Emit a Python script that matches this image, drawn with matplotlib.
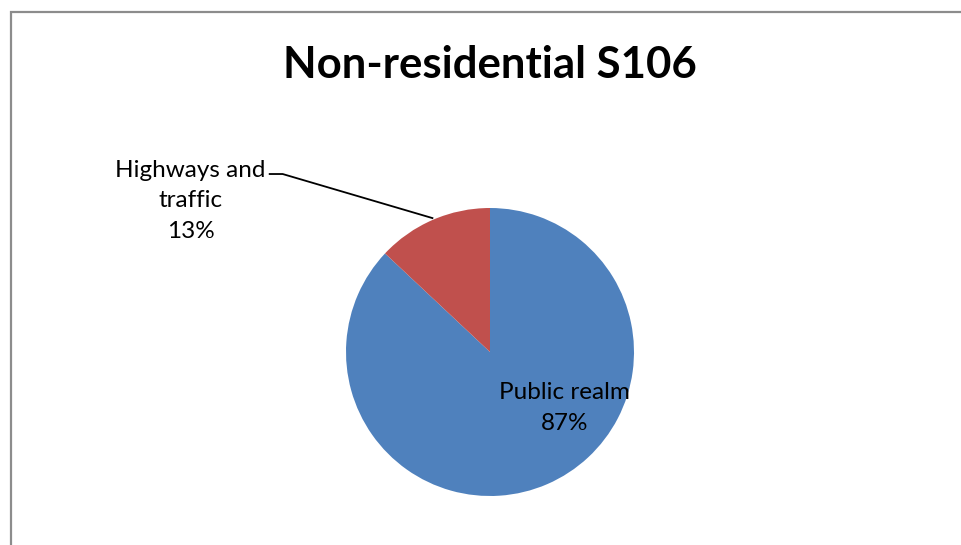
import matplotlib.pyplot as plt
from matplotlib.patches import Rectangle

# Non-residential S106 split
labels = ["Public realm", "Highways and\ntraffic"]
shares = [87, 13]
colors = ["#4F81BD", "#C0504D"]

plt.rcParams['font.family'] = ['Lato', 'DejaVu Sans']

W, H = 961, 545
fig = plt.figure(figsize=(W / 100, H / 100), dpi=100)

# chart area border (runs off the right and bottom edge)
fig.patches.append(Rectangle((10.5 / W, -0.1), 1.2, (H - 12) / H + 0.1,
                             transform=fig.transFigure, fill=False,
                             edgecolor="#8c8c8c", linewidth=1.6))

fig.text(490 / W, 1 - 65 / H, "Non-residential S106", ha="center", va="center",
         fontsize=31.5, fontweight="bold")

r = 144
ax = fig.add_axes([(490 - r) / W, (H - 352 - r) / H, 2 * r / W, 2 * r / H])
ax.pie(shares, colors=colors, startangle=90, counterclock=False, radius=1,
       wedgeprops=dict(linewidth=0))
ax.set_xlim(-1, 1)
ax.set_ylim(-1, 1)
ax.set_aspect("equal")
ax.axis("off")

ax.text(0.52, -0.39, f"{labels[0]}\n{shares[0]}%", ha="center", va="center",
        fontsize=17.5, linespacing=1.55, clip_on=False)
ax.text(-2.08, 1.05, f"{labels[1]}\n{shares[1]}%", ha="center", va="center",
        fontsize=17.5, linespacing=1.55, clip_on=False)
ax.plot([-1.53, -1.44, -0.40], [1.236, 1.236, 0.93], color="black",
        linewidth=1.3, clip_on=False)

fig.savefig("out.png", dpi=100)
